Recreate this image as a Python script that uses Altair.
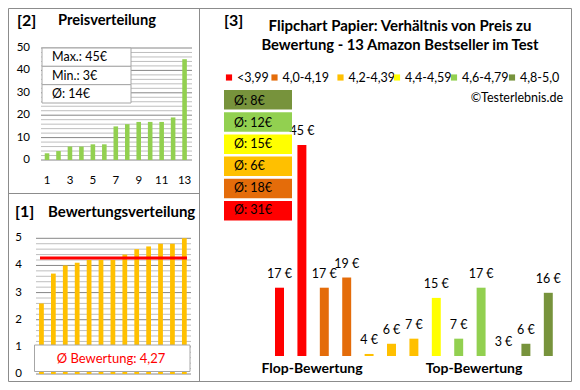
import altair as alt
import pandas as pd

# ---------------- data ----------------
ranks = list(range(1, 14))
prices_sorted = [3, 4, 6, 6, 7, 7, 15, 16, 17, 17, 17, 19, 45]
ratings_sorted = [2.6, 3.7, 4.0, 4.1, 4.2, 4.2, 4.2, 4.4, 4.6, 4.7, 4.8, 4.8, 5.0]
avg_rating = 4.27
avg_rating_label = "Ø Bewertung: 4,27"
price_stat_labels = ["Max.: 45€", "Min.: 3€", "Ø: 14€"]
price_ticks = [0, 10, 20, 30, 40, 50]
price_grid = list(range(0, 51, 2))
rating_ticks = [0, 1, 2, 3, 4, 5]
rating_grid = [i / 5 for i in range(0, 26)]
x_tick_labels = [1, 3, 5, 7, 9, 11, 13]

products = list(range(1, 14))
product_prices = [17, 45, 17, 19, 4, 6, 7, 15, 7, 17, 3, 6, 16]
product_groups = ["<3,99", "<3,99", "4,0-4,19", "4,0-4,19", "4,2-4,39", "4,2-4,39",
                  "4,2-4,39", "4,4-4,59", "4,6-4,79", "4,6-4,79", "4,8-5,0",
                  "4,8-5,0", "4,8-5,0"]
group_names = ["<3,99", "4,0-4,19", "4,2-4,39", "4,4-4,59", "4,6-4,79", "4,8-5,0"]
group_colors = ["#FF0000", "#E46C0A", "#FFC000", "#FFFF00", "#92D050", "#77933C"]
group_avgs = [31, 18, 6, 15, 12, 8]

FONT = "Lato"
GRID_MINOR = "#BEBEBE"
GRID_MAJOR = "#868686"
BORDER = "#8C8C8C"

def one(text):
    return pd.DataFrame({"t": [text]})

def label(text, x, y, size=12, bold=False, align="left", color="black"):
    return alt.Chart(one(text)).mark_text(
        font=FONT, fontSize=size, fontWeight="bold" if bold else "normal",
        align=align, baseline="middle", color=color
    ).encode(text="t:N", x=alt.value(x), y=alt.value(y))

layers = []

# ---------------- frame ----------------
layers.append(alt.Chart(one("f")).mark_rect(fill="white", stroke=BORDER, strokeWidth=1).encode(
    x=alt.value(0.5), x2=alt.value(563.5), y=alt.value(0.5), y2=alt.value(373.5)))
layers.append(alt.Chart(one("v")).mark_rule(color=BORDER, strokeWidth=1).encode(
    x=alt.value(191.5), y=alt.value(0), y2=alt.value(374)))
layers.append(alt.Chart(one("h")).mark_rule(color=BORDER, strokeWidth=1).encode(
    y=alt.value(185.5), x=alt.value(0), x2=alt.value(191.5)))

# ---------------- panel [2] Preisverteilung ----------------
px_scale = alt.Scale(domain=ranks, range=[33.3, 182.3], paddingInner=0.6, paddingOuter=0.3)
py_scale = alt.Scale(domain=[0, 50], range=[152, 40])

grid2 = pd.DataFrame({"g": price_grid, "major": [g % 10 == 0 for g in price_grid]})
layers.append(alt.Chart(grid2).mark_rule(strokeWidth=1).encode(
    y=alt.Y("g:Q", scale=py_scale, axis=None),
    x=alt.value(33), x2=alt.value(184),
    color=alt.Color("major:N", scale=alt.Scale(domain=[False, True], range=[GRID_MINOR, GRID_MAJOR]), legend=None)))

price_df = pd.DataFrame({"rank": ranks, "price": prices_sorted})
layers.append(alt.Chart(price_df).mark_bar(color="#92D050").encode(
    x=alt.X("rank:O", scale=px_scale, axis=None),
    y=alt.Y("price:Q", scale=py_scale, axis=None)))

layers.append(alt.Chart(pd.DataFrame({"v": price_ticks})).mark_text(
    font=FONT, fontSize=11.5, align="right", baseline="middle", color="black").encode(
    y=alt.Y("v:Q", scale=py_scale, axis=None), x=alt.value(22), text="v:Q"))
layers.append(alt.Chart(pd.DataFrame({"r": x_tick_labels})).mark_text(
    font=FONT, fontSize=11.5, align="center", baseline="middle", color="black").encode(
    x=alt.X("r:O", scale=px_scale, axis=None), y=alt.value(173), text="r:O"))

stat_scale = alt.Scale(domain=price_stat_labels, range=[40, 95], paddingInner=0, paddingOuter=0)
stats_df = pd.DataFrame({"s": price_stat_labels})
layers.append(alt.Chart(stats_df).mark_bar(fill="white", stroke="#A6A6A6", strokeWidth=1).encode(
    y=alt.Y("s:N", scale=stat_scale, axis=None, sort=None),
    x=alt.value(34), x2=alt.value(123)))
layers.append(alt.Chart(stats_df).mark_text(
    font=FONT, fontSize=12.5, align="left", baseline="middle", color="black").encode(
    y=alt.Y("s:N", scale=stat_scale, axis=None, sort=None), x=alt.value(44), text="s:N"))

layers.append(label("[2]", 9, 12.5, size=16, bold=True))
layers.append(label("Preisverteilung", 50, 12.5, size=14.7, bold=True))

# ---------------- panel [1] Bewertungsverteilung ----------------
rx_scale = alt.Scale(domain=ranks, range=[27.5, 182.3], paddingInner=0.6, paddingOuter=0.3)
ry_scale = alt.Scale(domain=[0, 5], range=[366, 230.3])

grid1 = pd.DataFrame({"g": rating_grid, "major": [abs(g - round(g)) < 1e-9 for g in rating_grid]})
layers.append(alt.Chart(grid1).mark_rule(strokeWidth=1).encode(
    y=alt.Y("g:Q", scale=ry_scale, axis=None),
    x=alt.value(28), x2=alt.value(183),
    color=alt.Color("major:N", scale=alt.Scale(domain=[False, True], range=[GRID_MINOR, GRID_MAJOR]), legend=None)))

rating_df = pd.DataFrame({"rank": ranks, "rating": ratings_sorted})
layers.append(alt.Chart(rating_df).mark_bar(color="#FFC000").encode(
    x=alt.X("rank:O", scale=rx_scale, axis=None),
    y=alt.Y("rating:Q", scale=ry_scale, axis=None)))

layers.append(alt.Chart(pd.DataFrame({"m": [avg_rating]})).mark_rule(color="#FF0000", strokeWidth=3).encode(
    y=alt.Y("m:Q", scale=ry_scale, axis=None), x=alt.value(32), x2=alt.value(179)))

layers.append(alt.Chart(pd.DataFrame({"v": rating_ticks})).mark_text(
    font=FONT, fontSize=11.5, align="right", baseline="middle", color="black").encode(
    y=alt.Y("v:Q", scale=ry_scale, axis=None), x=alt.value(14), text="v:Q"))

layers.append(alt.Chart(one("box")).mark_rect(fill="white", stroke="#A6A6A6", strokeWidth=1).encode(
    x=alt.value(26.5), x2=alt.value(182), y=alt.value(337), y2=alt.value(363.5)))
layers.append(label(avg_rating_label, 103, 351, size=13, align="center", color="#FF0000"))

layers.append(label("[1]", 7, 204, size=16, bold=True))
layers.append(label("Bewertungsverteilung", 40, 203.5, size=15, bold=True))

# ---------------- panel [3] ----------------
gx_scale = alt.Scale(domain=products, range=[260.3, 551.5], paddingInner=0.6, paddingOuter=0.3)
gy_scale = alt.Scale(domain=[3.6, 45], range=[348, 137], clamp=True)
color_scale = alt.Scale(domain=group_names, range=group_colors)

prod_df = pd.DataFrame({"p": products, "price": product_prices, "group": product_groups})
prod_df["lab"] = prod_df["price"].astype(str) + " €"

layers.append(alt.Chart(prod_df).mark_bar().encode(
    x=alt.X("p:O", scale=gx_scale, axis=None),
    y=alt.Y("price:Q", scale=gy_scale, axis=None),
    y2=alt.datum(3.6),
    color=alt.Color("group:N", scale=color_scale, legend=None)))

layers.append(alt.Chart(prod_df).mark_text(
    font=FONT, fontSize=12.5, align="center", baseline="middle", dy=-14, color="black").encode(
    x=alt.X("p:O", scale=gx_scale, axis=None),
    y=alt.Y("price:Q", scale=gy_scale, axis=None),
    text="lab:N"))

# legend (manual, one entry per rating class)
legend_symbol_x = [221, 266.5, 332.5, 389, 446, 504]
for name, col, sx in zip(group_names, group_colors, legend_symbol_x):
    layers.append(alt.Chart(one(name)).mark_square(size=38, color=col, opacity=1).encode(
        x=alt.value(sx), y=alt.value(69.5)))
    layers.append(label(name, sx + 8, 70, size=12.5))

avg_order = list(reversed(group_names))
box_scale = alt.Scale(domain=avg_order, range=[82, 212.5], paddingInner=0.12, paddingOuter=0)
avg_df = pd.DataFrame({"group": group_names, "avg": group_avgs})
avg_df["lab"] = "Ø: " + avg_df["avg"].astype(str) + "€"
layers.append(alt.Chart(avg_df).mark_bar().encode(
    y=alt.Y("group:N", scale=box_scale, axis=None, sort=None),
    x=alt.value(216), x2=alt.value(284),
    color=alt.Color("group:N", scale=color_scale, legend=None)))
layers.append(alt.Chart(avg_df).mark_text(
    font=FONT, fontSize=12.5, align="left", baseline="middle", color="black").encode(
    y=alt.Y("group:N", scale=box_scale, axis=None, sort=None),
    x=alt.value(226), text="lab:N"))

layers.append(label("[3]", 216, 12.5, size=16, bold=True))
layers.append(label("Flipchart Papier: Verhältnis von Preis zu", 392, 18, size=15, bold=True, align="center"))
layers.append(label("Bewertung - 13 Amazon Bestseller im Test", 392, 38, size=14.8, bold=True, align="center"))
layers.append(label("©Testerlebnis.de", 555, 90, size=12.5, align="right"))
layers.append(label("Flop-Bewertung", 304, 361, size=14, bold=True, align="center"))
layers.append(label("Top-Bewertung", 466, 361, size=14, bold=True, align="center"))

chart = alt.layer(*layers).resolve_scale(
    x="independent", y="independent", color="independent"
).properties(
    width=564, height=374, padding=0, autosize=alt.AutoSizeParams(type="none"),
    background="white"
).configure_view(stroke=None)

chart.save("out.html", embed_options={"renderer": "svg", "actions": False})
